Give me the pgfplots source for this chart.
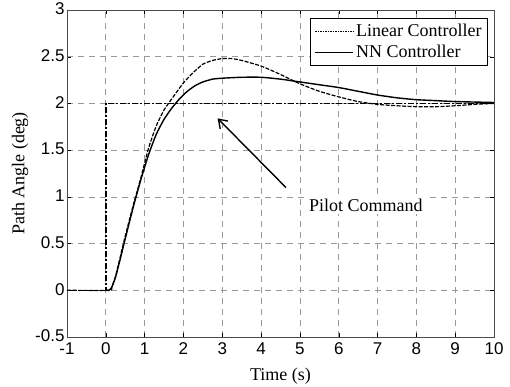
\documentclass[border=0pt]{standalone}
\usepackage{pgfplots}
\pgfplotsset{compat=1.18}
\usetikzlibrary{arrows.meta}
\usepackage{fontspec}
\setmainfont{Liberation Serif}
\newfontfamily\ticksans{Liberation Sans}
\begin{document}
\begin{tikzpicture}
\begin{axis}[
  at={(0pt,0pt)}, anchor=south west,
  scale only axis,
  width=427pt, height=327pt,
  xmin=-1, xmax=10, ymin=-0.5, ymax=3,
  xtick={-1,0,...,10},
  ytick={-0.5,0,0.5,1,1.5,2,2.5,3},
  tick align=inside,
  major tick length=4pt,
  tick style={black, thin},
  grid=major,
  major grid style={gray!80, dash pattern=on 6pt off 5pt, line width=0.7pt},
  axis line style={gray!60!black, line width=0.7pt},
  /pgf/number format/assume math mode=true,
  ticklabel style={font=\ticksans\fontsize{17}{19}\selectfont},
  xticklabel style={yshift=-2pt},
  yticklabel style={xshift=1pt, yshift=1pt},
  xlabel={Time (s)},
  ylabel={Path Angle (deg)},
  label style={font=\fontsize{18}{20}\selectfont},
  xlabel style={at={(axis description cs:0.5,-0.119)}, anchor=center},
  ylabel style={at={(axis description cs:-0.11,0.5)}, anchor=center, rotate=0},
  legend style={at={(rel axis cs:0.986,0.9755)}, anchor=north east,
    draw=black, line width=0.9pt, font=\fontsize{18}{20}\selectfont,
    inner xsep=4pt, inner ysep=4pt, row sep=3pt},
  legend cell align=left,
  legend image code/.code={\draw[#1] (0pt,0pt) -- (38pt,0pt);},
]
% Pilot command
\addplot[black, line width=1.5pt, dash pattern=on 6pt off 2pt on 2pt off 2pt, forget plot]
  coordinates {(-1,0) (0,0) (0,2) (10,2)};
% Linear controller
\addplot[black, line width=1.2pt, dash pattern=on 4pt off 1.5pt, forget plot, smooth, tension=0.35]
  coordinates {(-1,0) (0.08,0) (0.15,0.03) (0.25,0.15) (0.35,0.32) (0.5,0.58) (0.7,0.9) (0.9,1.2)
   (1.1,1.52) (1.3,1.76) (1.5,1.93) (1.7,2.05) (2.0,2.22) (2.25,2.33) (2.5,2.42) (2.75,2.46)
   (3,2.48) (3.25,2.48) (3.5,2.46) (4,2.4) (4.5,2.31) (5,2.21) (5.5,2.13) (6,2.07) (6.5,2.02)
   (7,1.99) (7.5,1.975) (8,1.965) (8.5,1.965) (9,1.975) (9.5,1.99) (10,2.0)};
% NN controller
\addplot[black, line width=1.4pt, forget plot, smooth, tension=0.35]
  coordinates {(0,0) (0.08,0) (0.15,0.03) (0.25,0.14) (0.35,0.3) (0.5,0.55) (0.7,0.88) (0.9,1.18)
   (1.1,1.45) (1.3,1.67) (1.5,1.83) (1.7,1.95) (1.9,2.05) (2.1,2.13) (2.3,2.19) (2.5,2.23)
   (2.75,2.26) (3,2.27) (3.5,2.28) (4,2.28) (4.5,2.26) (5,2.23) (5.5,2.2) (6,2.17) (6.5,2.13)
   (7,2.09) (7.5,2.06) (8,2.04) (8.5,2.03) (9,2.02) (10,2.01)};
\addlegendimage{black, line width=1.5pt, dash pattern=on 1.5pt off 1pt}
\addlegendentry{Linear Controller}
\addlegendimage{black, line width=1.5pt}
\addlegendentry{NN Controller}
\draw[black, line width=1.4pt, -{Straight Barb[length=8pt, width=11pt]}] (axis cs:4.64,1.1) -- (axis cs:2.88,1.84);
\node[font=\fontsize{18}{20}\selectfont, fill=white, inner sep=2pt] at (axis cs:6.7,0.91) {Pilot Command};
\end{axis}
\pgfresetboundingbox
\useasboundingbox (-67pt,-49pt) rectangle (443pt,337pt);
\end{tikzpicture}
\end{document}
